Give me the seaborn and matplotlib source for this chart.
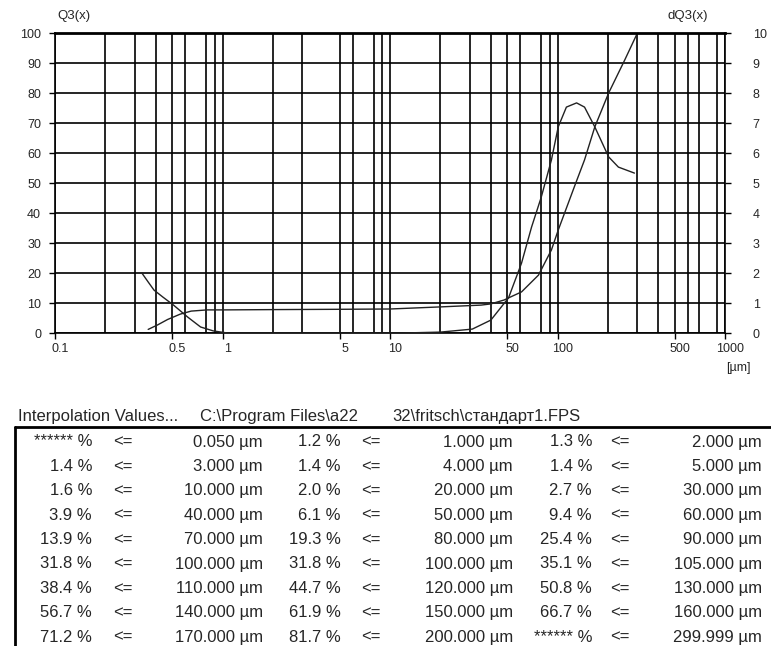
import numpy as np
import pandas as pd
import seaborn as sns
import matplotlib.pyplot as plt
from matplotlib.lines import Line2D
import matplotlib.transforms as mtransforms

# cumulative distribution Q3(x), % (left axis)
cum_x = [0.36, 0.41, 0.47, 0.56, 0.65, 0.81, 1.0, 2.0, 5.0, 10.0, 20.0, 35.0, 40.0,
         48.0, 51.0, 61.0, 77.0, 92.0, 101.0, 126.0, 145.0, 167.0, 202.0, 252.0, 300.0]
cum_y = [1.2, 2.7, 4.5, 6.3, 7.3, 7.7, 7.7, 7.8, 7.9, 8.0, 8.7, 9.3, 9.7,
         11.0, 11.7, 13.7, 19.3, 27.7, 34.3, 48.7, 57.7, 68.7, 80.0, 91.0, 100.0]

# density dQ3(x) (right axis)
dens_x = [0.33, 0.36, 0.39, 0.44, 0.51, 0.62, 0.74, 0.88, 1.07, 12.0, 20.0, 31.0, 40.0,
          51.0, 61.0, 70.0, 80.0, 92.0, 101.0, 113.0, 130.0, 145.0, 167.0, 202.0, 231.0, 288.0]
dens_y = [2.0, 1.7, 1.43, 1.2, 0.93, 0.53, 0.2, 0.07, 0.0, 0.0, 0.03, 0.13, 0.43,
          1.17, 2.33, 3.53, 4.53, 5.77, 6.87, 7.53, 7.67, 7.53, 6.87, 5.87, 5.53, 5.33]

x_ticks = [0.1, 0.5, 1, 5, 10, 50, 100, 500, 1000]
x_tick_labels = ["0.1", "0.5", "1", "5", "10", "50", "100", "500", "1000"]
x_grid = [0.2, 0.3, 0.4, 0.6, 0.8, 0.9, 2, 3, 6, 8, 9,
          20, 30, 40, 60, 80, 90, 200, 300, 400, 600, 700, 900]
left_ticks = list(range(0, 101, 10))
right_ticks = list(range(0, 11))

# interpolation table
pct1 = ["******", "1.4", "1.6", "3.9", "13.9", "31.8", "38.4", "56.7", "71.2"]
size1 = ["0.050", "3.000", "10.000", "40.000", "70.000", "100.000", "110.000", "140.000", "170.000"]
pct2 = ["1.2", "1.4", "2.0", "6.1", "19.3", "31.8", "44.7", "61.9", "81.7"]
size2 = ["1.000", "4.000", "20.000", "50.000", "80.000", "100.000", "120.000", "150.000", "200.000"]
pct3 = ["1.3", "1.4", "2.7", "9.4", "25.4", "35.1", "50.8", "66.7", "******"]
size3 = ["2.000", "5.000", "30.000", "60.000", "90.000", "105.000", "130.000", "160.000", "299.999"]

sns.set_style("white")
plt.rcParams['font.family'] = ['Liberation Sans', 'DejaVu Sans']

W, H = 771, 646
fig = plt.figure(figsize=(W / 100, H / 100), dpi=100)
ax = fig.add_axes([55 / W, 1 - 333 / H, 670 / W, 300 / H])

cum = pd.DataFrame({"x": cum_x, "y": cum_y})
dens = pd.DataFrame({"x": dens_x, "y": dens_y})

sns.lineplot(data=cum, x="x", y="y", ax=ax, color="#222222", lw=1.0, estimator=None)
ax.set_xscale("log")
ax.set_xlim(0.1, 1000)
ax.set_ylim(0, 100)
ax.set_xticks(x_ticks)
ax.set_xticklabels(x_tick_labels)
ax.set_xticks(x_grid, minor=True)
ax.set_yticks(left_ticks)
ax.set_yticklabels([str(v) for v in left_ticks])
ax.grid(True, which="major", color="black", lw=1.2)
ax.grid(True, which="minor", axis="x", color="black", lw=1.2)
ax.tick_params(which="minor", length=0)
ax.tick_params(which="major", direction="out", length=4, width=1, labelsize=9, color="black",
               bottom=True, left=True)
ax.tick_params(axis="y", pad=6)
ax.set_xlabel("")
ax.set_ylabel("")
for s in ax.spines.values():
    s.set_color("black")
    s.set_linewidth(1.2)
ax.spines["top"].set_linewidth(2)

# shift bottom labels slightly right like the original
offset = mtransforms.ScaledTranslation(5 / 100, 0, fig.dpi_scale_trans)
for lab in ax.get_xticklabels():
    lab.set_transform(lab.get_transform() + offset)

ax2 = ax.twinx()
sns.lineplot(data=dens, x="x", y="y", ax=ax2, color="#222222", lw=1.0, estimator=None)
ax2.set_ylim(0, 10)
ax2.set_yticks(right_ticks)
ax2.set_yticklabels([str(v) for v in right_ticks])
ax2.tick_params(direction="out", length=4, width=1, labelsize=9, pad=16, right=True, color="black")
ax2.set_ylabel("")
for s in ax2.spines.values():
    s.set_visible(False)

fig.text(57 / W, 1 - 16 / H, "Q3(x)", fontsize=9.5, ha="left", va="center")
fig.text(708 / W, 1 - 16 / H, "dQ3(x)", fontsize=9.5, ha="right", va="center")
fig.text(738 / W, 1 - 368 / H, "[µm]", fontsize=9, ha="center", va="center")

# table header and frame
hy = 1 - 416 / H
fig.text(18 / W, hy, "Interpolation Values...", fontsize=12, ha="left", va="center")
fig.text(200 / W, hy, "C:\\Program Files\\a22", fontsize=12, ha="left", va="center")
fig.text(392 / W, hy, "32\\fritsch\\стандарт1.FPS", fontsize=12, ha="left", va="center")
fig.add_artist(Line2D([15 / W, 1], [1 - 427 / H] * 2, transform=fig.transFigure, color="black", lw=2))
fig.add_artist(Line2D([15 / W, 15 / W], [1 - 427 / H, 0], transform=fig.transFigure, color="black", lw=2))

cols = [(pct1, size1, 92, 113, 263), (pct2, size2, 341, 361, 513), (pct3, size3, 592, 610, 762)]
for i in range(len(pct1)):
    y = 1 - (442 + 24.4 * i) / H
    for pcts, sizes, xp, xle, xs in cols:
        fig.text(xp / W, y, pcts[i] + " %", fontsize=12, ha="right", va="center")
        fig.text(xle / W, y, "<=", fontsize=12, ha="left", va="center")
        fig.text(xs / W, y, sizes[i] + " µm", fontsize=12, ha="right", va="center")

fig.savefig("out.png", dpi=100)
